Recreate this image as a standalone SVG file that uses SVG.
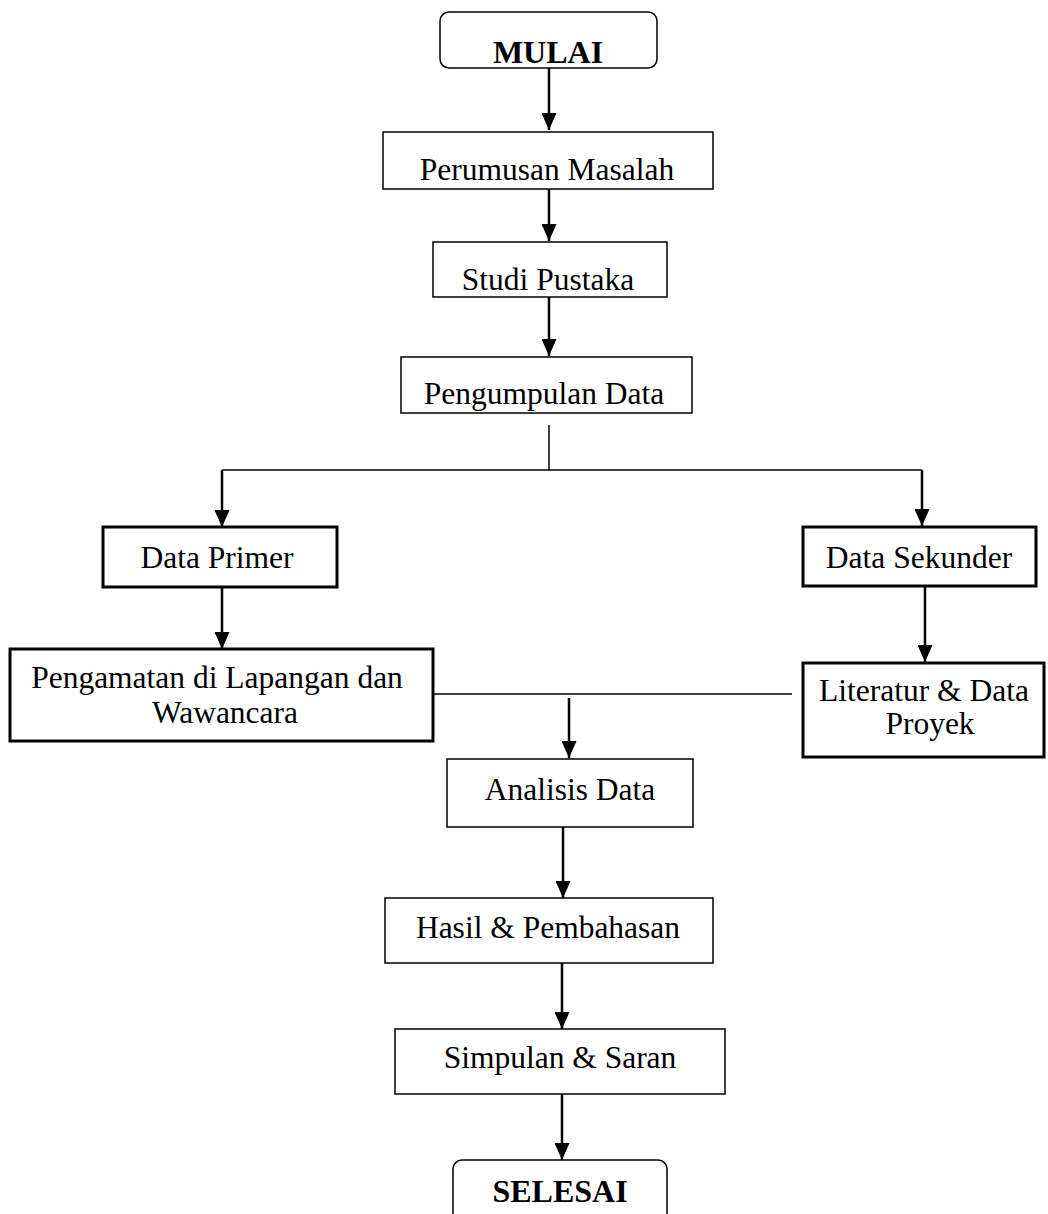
<svg xmlns="http://www.w3.org/2000/svg" width="1048" height="1214" viewBox="0 0 1048 1214">
<style>
.box{fill:#fff;stroke:#000;stroke-width:1.5}
.thick{fill:#fff;stroke:#000;stroke-width:3}
.t{font-family:"Liberation Serif","Times New Roman",serif;font-size:31.5px;fill:#000;text-anchor:middle}
.b{font-weight:bold;font-size:32px}
.arr{stroke:#000;stroke-width:2.5;fill:none;marker-end:url(#ah)}
.ln{stroke:#000;stroke-width:1.5;fill:none}
</style>
<defs>
<marker id="ah" markerUnits="userSpaceOnUse" markerWidth="17" markerHeight="15" refX="17" refY="7.5" orient="auto" viewBox="0 0 17 15">
<path d="M0,0 L17,7.5 L0,15 Z" fill="#000"/>
</marker>
</defs>
<rect width="1048" height="1214" fill="#fff"/>
<g id="connectors">
<line class="arr" x1="549" y1="68" x2="549" y2="130"/>
<line class="arr" x1="549" y1="189" x2="549" y2="241"/>
<line class="arr" x1="549" y1="297" x2="549" y2="356"/>
<polyline class="ln" points="549,425 549,470"/>
<polyline class="ln" points="222,470 922,470"/>
<line class="arr" x1="222" y1="470" x2="222" y2="527"/>
<line class="arr" x1="922" y1="470" x2="922" y2="526"/>
<line class="arr" x1="222" y1="587" x2="222" y2="649"/>
<line class="arr" x1="925" y1="586" x2="925" y2="662"/>
<line class="ln" x1="433" y1="694" x2="792" y2="694"/>
<line class="arr" x1="569" y1="698" x2="569" y2="758"/>
<line class="arr" x1="563" y1="827" x2="563" y2="898"/>
<line class="arr" x1="562" y1="963" x2="562" y2="1029"/>
<line class="arr" x1="562" y1="1094" x2="562" y2="1160"/>
</g>
<g id="mulai">
<rect class="box" x="440" y="12" width="217" height="56" rx="9"/>
<text class="t b" x="548" y="63">MULAI</text>
</g>
<g id="perumusan">
<rect class="box" x="383" y="132" width="330" height="57"/>
<text class="t" x="547" y="180">Perumusan Masalah</text>
</g>
<g id="studi">
<rect class="box" x="433" y="242" width="234" height="55"/>
<text class="t" x="548" y="290">Studi Pustaka</text>
</g>
<g id="pengumpulan">
<rect class="box" x="401" y="357" width="291" height="56"/>
<text class="t" x="544" y="404">Pengumpulan Data</text>
</g>
<g id="primer">
<rect class="thick" x="103" y="527" width="234" height="60"/>
<text class="t" x="217" y="568">Data Primer</text>
</g>
<g id="sekunder">
<rect class="thick" x="803" y="527" width="233" height="59"/>
<text class="t" x="919" y="568">Data Sekunder</text>
</g>
<g id="pengamatan">
<rect class="thick" x="10" y="649" width="423" height="92"/>
<text class="t" x="217" y="688">Pengamatan di Lapangan dan</text>
<text class="t" x="225" y="723">Wawancara</text>
</g>
<g id="literatur">
<rect class="thick" x="803" y="663" width="241" height="94"/>
<text class="t" x="924" y="701">Literatur &amp; Data</text>
<text class="t" x="930" y="734">Proyek</text>
</g>
<g id="analisis">
<rect class="box" x="447" y="759" width="246" height="68"/>
<text class="t" x="570" y="800">Analisis Data</text>
</g>
<g id="hasil">
<rect class="box" x="385" y="898" width="328" height="65"/>
<text class="t" x="548" y="938">Hasil &amp; Pembahasan</text>
</g>
<g id="simpulan">
<rect class="box" x="395" y="1029" width="330" height="65"/>
<text class="t" x="560" y="1068">Simpulan &amp; Saran</text>
</g>
<g id="selesai">
<rect class="box" x="453" y="1160" width="214" height="70" rx="9"/>
<text class="t b" x="560" y="1202">SELESAI</text>
</g>
</svg>
